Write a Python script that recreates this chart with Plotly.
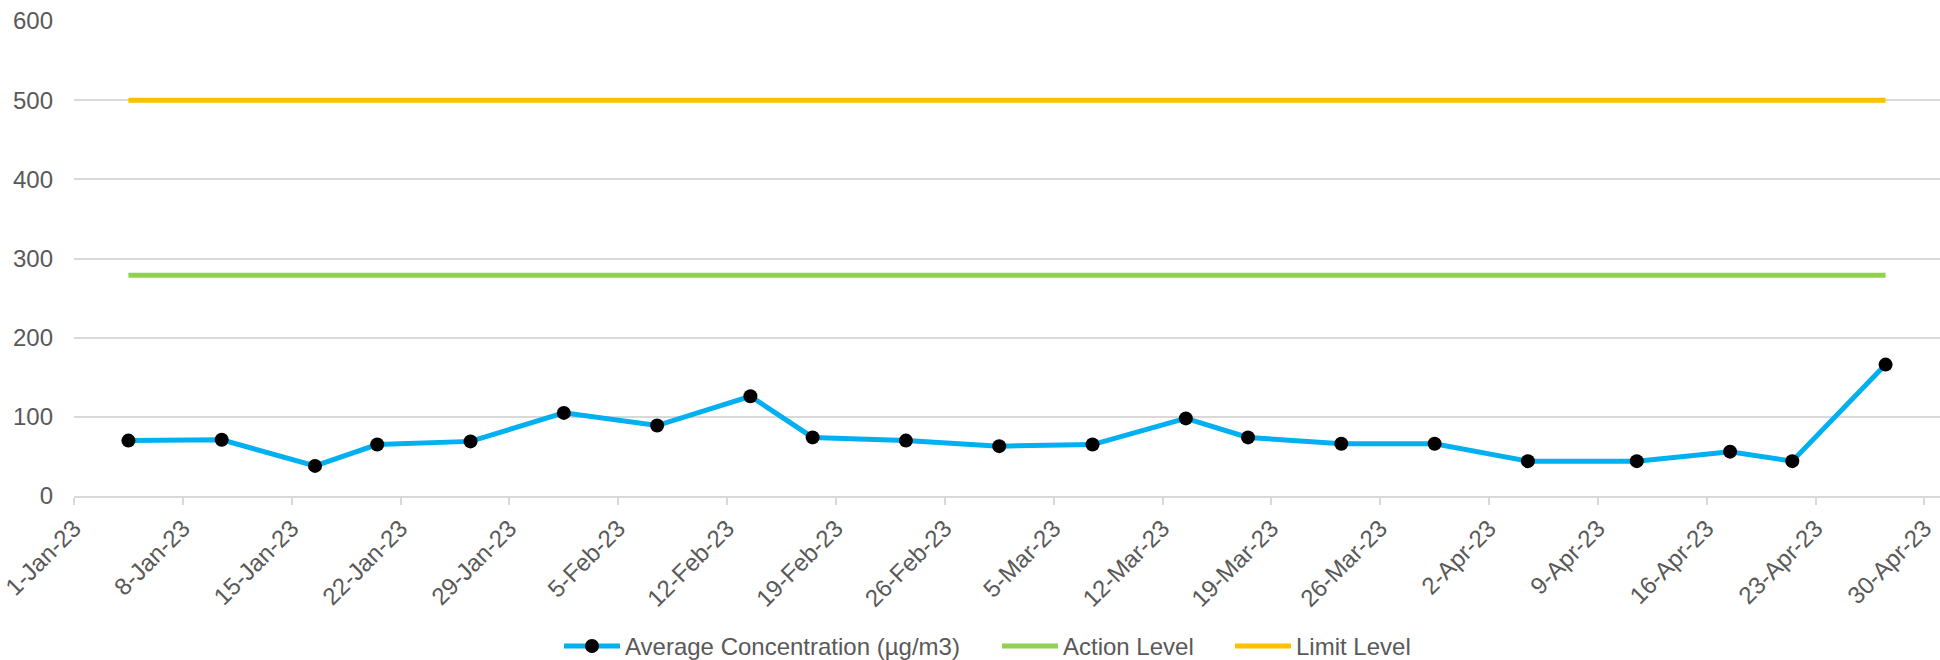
import pandas as pd
import plotly.graph_objects as go

# Sampling dates and measured 24-hr average concentrations
sample_dates = [
    "2023-01-04", "2023-01-10", "2023-01-16", "2023-01-20", "2023-01-26",
    "2023-02-01", "2023-02-07", "2023-02-13", "2023-02-17", "2023-02-23",
    "2023-03-01", "2023-03-07", "2023-03-13", "2023-03-17", "2023-03-23",
    "2023-03-29", "2023-04-04", "2023-04-11", "2023-04-17", "2023-04-21",
    "2023-04-27",
]
avg_concentration = [70, 71, 38, 65, 69, 105, 89, 126, 74, 70,
                     63, 65, 98, 74, 66, 66, 44, 44, 56, 44, 166]
action_level_value = 279
limit_level_value = 500

series_names = ["Average Concentration (µg/m3)", "Action Level", "Limit Level"]
series_colors = ["#00B0F0", "#92D050", "#FFC000"]

# Each date occupies a one-day slot on the axis; values sit in the middle of it
x_pos = pd.to_datetime(sample_dates) + pd.Timedelta(hours=12)
action_level = [action_level_value] * len(sample_dates)
limit_level = [limit_level_value] * len(sample_dates)

TEXT = "#595959"
GRID = "#D9D9D9"
FONT = "Liberation Sans, Arial, sans-serif"

W, H = 1940, 660
M_L, M_R, M_T, M_B = 74, 0, 21, 164
PLOT_W = W - M_L - M_R
PLOT_H = H - M_T - M_B


def px_to_paper_x(px):
    return (px - M_L) / PLOT_W


def px_to_paper_y(py):
    return (H - M_B - py) / PLOT_H


fig = go.Figure()
fig.add_trace(go.Scatter(
    x=x_pos, y=avg_concentration, name=series_names[0], mode="lines+markers",
    line=dict(color=series_colors[0], width=5),
    marker=dict(color="#000000", size=14, line=dict(width=0)),
))
fig.add_trace(go.Scatter(
    x=x_pos, y=action_level, name=series_names[1], mode="lines",
    line=dict(color=series_colors[1], width=5),
))
fig.add_trace(go.Scatter(
    x=x_pos, y=limit_level, name=series_names[2], mode="lines",
    line=dict(color=series_colors[2], width=5),
))

# Legend row below the axis: a line swatch followed by the series name
legend_y = px_to_paper_y(646)
legend_items = [(564, True), (1002, False), (1235, False)]
shapes = []
annotations = []
for (x_start, with_marker), name, color in zip(legend_items, series_names, series_colors):
    shapes.append(dict(
        type="line", xref="paper", yref="paper",
        x0=px_to_paper_x(x_start), x1=px_to_paper_x(x_start + 56),
        y0=legend_y, y1=legend_y,
        line=dict(color=color, width=5),
    ))
    if with_marker:
        shapes.append(dict(
            type="circle", xref="paper", yref="paper",
            xsizemode="pixel", ysizemode="pixel",
            xanchor=px_to_paper_x(x_start + 28), yanchor=legend_y,
            x0=-7, x1=7, y0=-7, y1=7,
            fillcolor="#000000", line=dict(width=0),
        ))
    annotations.append(dict(
        xref="paper", yref="paper",
        x=px_to_paper_x(x_start + 59), y=legend_y,
        xanchor="left", yanchor="middle", showarrow=False,
        text=name, font=dict(family=FONT, size=24, color=TEXT),
    ))

fig.update_layout(
    width=W, height=H,
    margin=dict(l=M_L, r=M_R, t=M_T, b=M_B, pad=0, autoexpand=False),
    paper_bgcolor="white", plot_bgcolor="white",
    font=dict(family=FONT, size=24, color=TEXT),
    showlegend=False,
    shapes=shapes,
    annotations=annotations,
)

fig.update_xaxes(
    type="date",
    range=["2023-01-01", "2023-05-01"],
    tick0="2023-01-01", dtick=7 * 24 * 3600 * 1000,
    tickformat="%-d-%b-%y", tickangle=-45,
    ticks="outside", ticklen=7, tickwidth=1.5, tickcolor=GRID,
    showgrid=False, showline=True, linecolor=GRID, linewidth=1.5,
    tickfont=dict(family=FONT, size=24, color=TEXT),
    ticklabeloverflow="allow",
    automargin=False,
    zeroline=False,
)
fig.update_yaxes(
    range=[0, 600], dtick=100, tick0=0,
    showgrid=True, gridcolor=GRID, gridwidth=1.5,
    zeroline=False, showline=False, ticks="",
    ticklabelstandoff=20,
    automargin=False,
    tickfont=dict(family=FONT, size=24, color=TEXT),
)

fig.write_html("out.html")
